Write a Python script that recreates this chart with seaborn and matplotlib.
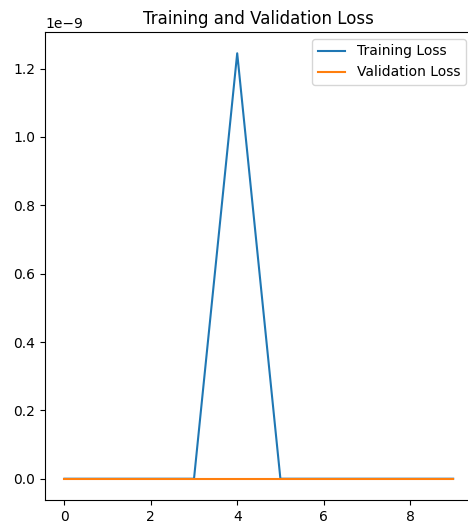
import matplotlib
matplotlib.use("Agg")
import matplotlib.pyplot as plt
import seaborn as sns
import pandas as pd

epochs = [0, 1, 2, 3, 4, 5, 6, 7, 8, 9]
training_loss = [0, 0, 0, 0, 1.245e-9, 0, 0, 0, 0, 0]
validation_loss = [0, 0, 0, 0, 0, 0, 0, 0, 0, 0]

df = pd.DataFrame({
    "epoch": epochs * 2,
    "loss": training_loss + validation_loss,
    "series": ["Training Loss"] * len(epochs) + ["Validation Loss"] * len(epochs),
})

fig = plt.figure(figsize=(4.68, 5.25), dpi=100)
ax = fig.add_axes([45 / 468, 1 - 500 / 525, (472.6 - 45) / 468, (500 - 32) / 525])
sns.lineplot(data=df, x="epoch", y="loss", hue="series",
             palette=["#1f77b4", "#ff7f0e"], ax=ax, linewidth=1.5)
ax.set_title("Training and Validation Loss")
ax.set_xlabel("")
ax.set_ylabel("")
ax.xaxis.label.set_visible(False)
ax.yaxis.label.set_visible(False)
ax.legend(loc="upper right")
ax.set_xticks([0, 2, 4, 6, 8])
fig.savefig("out.png", dpi=100)
